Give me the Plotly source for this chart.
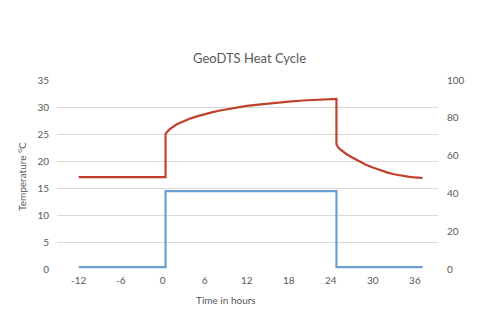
import plotly.graph_objects as go

# Temperature (left axis, °C)
temp_t = [-12, 0.4, 0.4, 0.6, 1, 1.5, 2, 2.5, 3, 4, 5, 6, 7, 8, 10, 12, 14, 16, 18, 20, 22, 24.8,
          24.8, 25.0, 25.3, 25.7, 26.2, 27, 28, 29, 30, 31, 32, 33, 34, 35, 36, 37.1]
temp_v = [17.0, 17.0, 25.0, 25.4, 25.9, 26.4, 26.8, 27.1, 27.4, 27.9, 28.3, 28.7, 29.0, 29.3, 29.8, 30.2, 30.5,
          30.8, 31.0, 31.2, 31.35, 31.5,
          23.1, 22.6, 22.2, 21.8, 21.3, 20.7, 20.0, 19.3, 18.8, 18.3, 17.9, 17.55, 17.3, 17.1, 16.95, 16.85]

# Power (right axis, W/m)
power_t = [-12, 0.4, 0.4, 24.8, 24.8, 37.1]
power_v = [1.0, 1.0, 41.2, 41.2, 1.0, 1.0]

x_ticks = [-12, -6, 0, 6, 12, 18, 24, 30, 36]
left_ticks = [0, 5, 10, 15, 20, 25, 30, 35]
right_ticks = [0, 20, 40, 60, 80, 100]

FONT = "Lato, Carlito, 'Open Sans', sans-serif"
GRAY = "#595959"

fig = go.Figure()
fig.add_trace(go.Scatter(x=temp_t, y=temp_v, mode="lines",
                         line=dict(color="#C0412B", width=2.2), yaxis="y", showlegend=False))
fig.add_trace(go.Scatter(x=power_t, y=power_v, mode="lines",
                         line=dict(color="#6A9FD6", width=2.2), yaxis="y2", showlegend=False))

fig.update_layout(
    width=479, height=311,
    margin=dict(l=49, r=49, t=72, b=50),
    paper_bgcolor="white", plot_bgcolor="white",
    font=dict(family=FONT, color=GRAY, size=10),
    xaxis=dict(range=[-15.1, 39.3], tickvals=x_ticks, ticktext=[str(v) for v in x_ticks],
               showgrid=False, zeroline=False, showline=False, ticks="", automargin=False,
               ticklabelstandoff=4, tickfont=dict(size=10, color=GRAY)),
    yaxis=dict(range=[0, 35], tickvals=left_ticks, showgrid=True, gridcolor="#D9D9D9", gridwidth=1,
               zeroline=False, showline=False, ticks="", automargin=False, ticklabelstandoff=7,
               tickfont=dict(size=10, color=GRAY)),
    yaxis2=dict(range=[0, 100], tickvals=right_ticks, overlaying="y", side="right",
                showgrid=False, zeroline=False, showline=False, ticks="", automargin=False,
                ticklabelstandoff=8, tickfont=dict(size=10, color=GRAY)),
)

# Title and axis titles as positioned annotations (paper coords relative to plot area)
fig.add_annotation(text="GeoDTS Heat Cycle", xref="paper", yref="paper",
                   x=(250 - 57) / 381, y=(269 - 58) / 189, xanchor="center", yanchor="middle",
                   showarrow=False, font=dict(size=13, color=GRAY, family=FONT))
fig.add_annotation(text="Time in hours", xref="paper", yref="paper",
                   x=(226 - 57) / 381, y=(269 - 300) / 189, xanchor="center", yanchor="middle",
                   showarrow=False, font=dict(size=10, color=GRAY, family=FONT))
fig.add_annotation(text="Temperature °C", xref="paper", yref="paper",
                   x=(22 - 57) / 381, y=(269 - 177) / 189, xanchor="center", yanchor="middle",
                   textangle=-90, showarrow=False, font=dict(size=10, color=GRAY, family=FONT))
fig.add_annotation(text="Watts per meter", xref="paper", yref="paper",
                   x=(478 - 57) / 381, y=(269 - 175) / 189, xanchor="center", yanchor="middle",
                   textangle=-90, showarrow=False, font=dict(size=10, color=GRAY, family=FONT))

fig.write_html("out.html")
